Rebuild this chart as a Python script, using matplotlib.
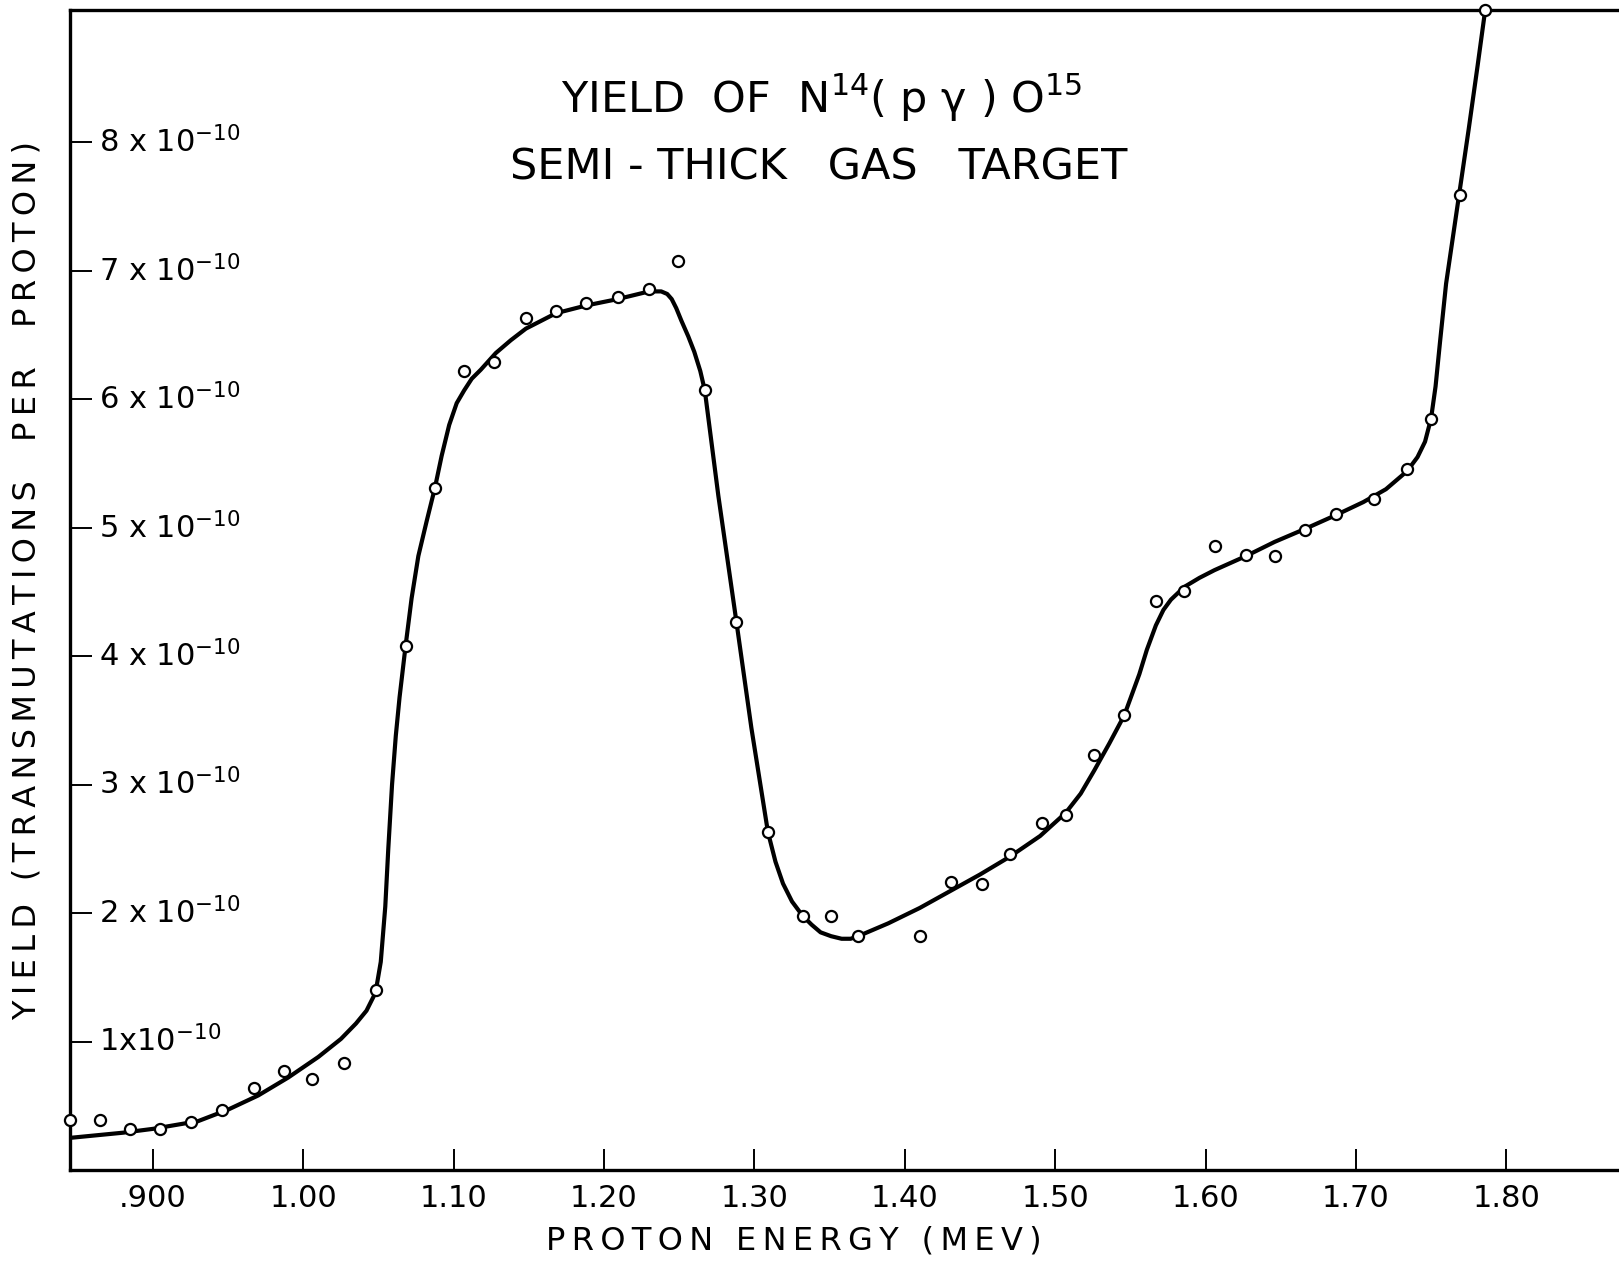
import matplotlib
matplotlib.use("Agg")
import matplotlib.pyplot as plt

plt.rcParams['font.family'] = ['DejaVu Sans']
plt.rcParams['mathtext.default'] = 'regular'

# measured points: proton energy (MeV), yield (units of 1e-10 per proton)
energy = [0.845, 0.865, 0.885, 0.905, 0.925, 0.946, 0.967, 0.987, 1.006, 1.027,
          1.048, 1.068, 1.0875, 1.107, 1.127, 1.148, 1.168, 1.188, 1.209, 1.230,
          1.249, 1.267, 1.288, 1.309, 1.332, 1.351, 1.369, 1.410, 1.431, 1.4515,
          1.470, 1.491, 1.507, 1.526, 1.546, 1.567, 1.586, 1.606, 1.627, 1.646,
          1.666, 1.687, 1.712, 1.734, 1.750, 1.769, 1.786]
yield_pts = [0.39, 0.39, 0.32, 0.32, 0.37, 0.47, 0.64, 0.77, 0.71, 0.83,
             1.40, 4.08, 5.31, 6.22, 6.29, 6.63, 6.69, 6.75, 6.80, 6.86,
             7.08, 6.07, 4.27, 2.63, 1.98, 1.98, 1.82, 1.82, 2.24, 2.23,
             2.46, 2.70, 2.76, 3.23, 3.54, 4.43, 4.51, 4.86, 4.79, 4.78,
             4.98, 5.11, 5.22, 5.46, 5.85, 7.59, 9.03]

# hand drawn smooth curve
curve_e = [0.845, 0.88, 0.90, 0.93, 0.95, 0.97, 0.99, 1.01, 1.025, 1.035,
           1.042, 1.048, 1.0515, 1.0545, 1.0565, 1.059, 1.0615, 1.064, 1.068, 1.072,
           1.0765, 1.082, 1.0875, 1.092, 1.097, 1.102, 1.107, 1.112, 1.118, 1.128,
           1.138, 1.148, 1.168, 1.188, 1.209, 1.230, 1.238, 1.242, 1.245, 1.248,
           1.2515, 1.256, 1.26, 1.264, 1.267, 1.276, 1.288, 1.298, 1.309, 1.314,
           1.319, 1.325, 1.332, 1.338, 1.344, 1.351, 1.358, 1.364, 1.369, 1.379,
           1.389, 1.410, 1.43, 1.45, 1.47, 1.49, 1.507, 1.517, 1.526, 1.536,
           1.546, 1.551, 1.556, 1.561, 1.567, 1.572, 1.577, 1.586, 1.596, 1.606,
           1.627, 1.646, 1.666, 1.687, 1.705, 1.72, 1.734, 1.741, 1.746, 1.750,
           1.753, 1.756, 1.76, 1.765, 1.769, 1.775, 1.781, 1.786]
curve_y = [0.25, 0.29, 0.32, 0.38, 0.47, 0.58, 0.72, 0.88, 1.02, 1.14,
           1.24, 1.38, 1.62, 2.05, 2.50, 3.00, 3.38, 3.68, 4.08, 4.45,
           4.78, 5.05, 5.31, 5.56, 5.80, 5.97, 6.07, 6.16, 6.23, 6.36,
           6.46, 6.55, 6.67, 6.73, 6.78, 6.84, 6.84, 6.82, 6.78, 6.71,
           6.61, 6.49, 6.37, 6.22, 6.07, 5.25, 4.27, 3.44, 2.63, 2.40,
           2.23, 2.09, 1.98, 1.91, 1.85, 1.82, 1.80, 1.80, 1.82, 1.87,
           1.92, 2.04, 2.17, 2.30, 2.44, 2.60, 2.78, 2.93, 3.11, 3.32,
           3.54, 3.70, 3.86, 4.05, 4.24, 4.36, 4.44, 4.54, 4.61, 4.67,
           4.78, 4.89, 4.99, 5.10, 5.20, 5.30, 5.44, 5.55, 5.67, 5.85,
           6.10, 6.45, 6.90, 7.30, 7.62, 8.10, 8.60, 9.03]

x_ticks = [0.90, 1.00, 1.10, 1.20, 1.30, 1.40, 1.50, 1.60, 1.70, 1.80]
x_labels = ['.900', '1.00', '1.10', '1.20', '1.30', '1.40', '1.50', '1.60', '1.70', '1.80']
y_ticks = [1, 2, 3, 4, 5, 6, 7, 8]
y_labels = ['1x10$^{-10}$', '2 x 10$^{-10}$', '3 x 10$^{-10}$', '4 x 10$^{-10}$',
            '5 x 10$^{-10}$', '6 x 10$^{-10}$', '7 x 10$^{-10}$', '8 x 10$^{-10}$']


def spaced(s):
    # wide lettering like the hand drawn labels
    return '\u2009'.join(s)


fig = plt.figure(figsize=(16.19, 12.64), dpi=100)
ax = fig.add_axes([0.0434, 0.0744, 0.9566, 0.9176])

ax.plot(curve_e, curve_y, color='black', lw=3.0, solid_capstyle='round',
        solid_joinstyle='round', zorder=2)
ax.plot(energy, yield_pts, 'o', ms=8, mfc='white', mec='black', mew=1.6,
        clip_on=False, zorder=3)

ax.set_xlim(0.845, 1.875)
ax.set_ylim(0, 9.03)

for side in ['left', 'top', 'bottom']:
    ax.spines[side].set_linewidth(2.4)
ax.spines['right'].set_visible(False)

ax.set_xticks(x_ticks)
ax.set_xticklabels(x_labels, fontsize=22)
ax.tick_params(axis='x', direction='in', length=15, width=1.4, pad=10)

ax.set_yticks(y_ticks)
ax.set_yticklabels([])
ax.tick_params(axis='y', direction='in', length=16, width=1.4)
for yv, lab in zip(y_ticks, y_labels):
    ax.text(0.0185, yv, lab, transform=ax.get_yaxis_transform(),
            fontsize=22, ha='left', va='center')

ax.set_xlabel(spaced('PROTON ENERGY (MEV)'), fontsize=23, labelpad=2)
ax.xaxis.set_label_coords(0.467, -0.048)
ax.set_ylabel(spaced('YIELD (TRANSMUTATIONS  PER  PROTON)'), fontsize=23)
ax.yaxis.set_label_coords(-0.018, 0.508)

ax.text(0.485, 0.924, 'YIELD  OF  N$^{14}$( p $\\gamma$ ) O$^{15}$',
        transform=ax.transAxes, fontsize=31, ha='center', va='center')
ax.text(0.483, 0.864, 'SEMI - THICK   GAS   TARGET',
        transform=ax.transAxes, fontsize=31, ha='center', va='center')

fig.savefig('out.png', dpi=100)
